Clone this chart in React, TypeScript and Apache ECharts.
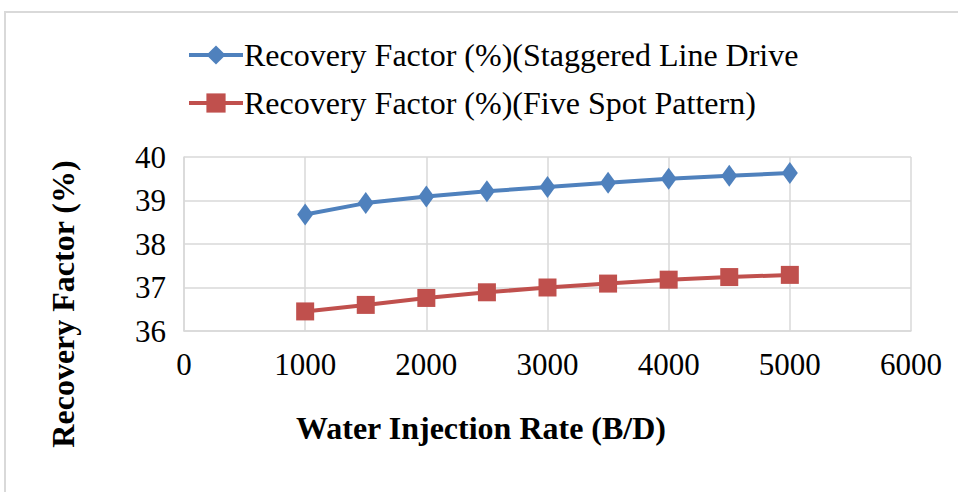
import React, { useEffect, useRef } from "react";
import * as echarts from "echarts";

const xValues = [1000, 1500, 2000, 2500, 3000, 3500, 4000, 4500, 5000];
const staggeredLineDrive = [38.68, 38.94, 39.09, 39.21, 39.31, 39.41, 39.5, 39.57, 39.63];
const fiveSpotPattern = [36.45, 36.6, 36.76, 36.89, 37.0, 37.09, 37.18, 37.24, 37.29];
const seriesNames = [
  "Recovery Factor (%)(Staggered Line Drive",
  "Recovery Factor (%)(Five Spot Pattern)",
];
const xAxisTitle = "Water Injection Rate (B/D)";
const yAxisTitle = "Recovery Factor (%)";

const FONT = '"Liberation Serif", "Times New Roman", serif';

export default function App() {
  const ref = useRef<HTMLDivElement>(null);
  useEffect(() => {
    if (!ref.current) return;
    const chart = echarts.init(ref.current, null, { renderer: "svg" });
    const gridColor = "#D9D9D9";
    chart.setOption({
      animation: false,
      backgroundColor: "#ffffff",
      textStyle: { fontFamily: FONT },
      graphic: [
        {
          type: "rect",
          shape: { x: 5, y: 12, width: 1000, height: 600 },
          style: { fill: "none", stroke: "#D9D9D9", lineWidth: 2 },
          silent: true,
        },
        {
          type: "text",
          x: 481,
          y: 428,
          style: {
            text: xAxisTitle,
            font: `bold 32px ${FONT}`,
            fill: "#000",
            align: "center",
            verticalAlign: "middle",
          },
          silent: true,
        },
        {
          type: "text",
          x: 63,
          y: 304,
          rotation: Math.PI / 2,
          style: {
            text: yAxisTitle,
            font: `bold 32px ${FONT}`,
            fill: "#000",
            align: "center",
            verticalAlign: "middle",
          },
          silent: true,
        },
      ],
      legend: {
        orient: "vertical",
        left: 187,
        top: 39,
        padding: 0,
        itemWidth: 54,
        itemHeight: 24,
        itemGap: 16,
        lineStyle: { width: 4 },
        textStyle: { fontFamily: FONT, fontSize: 32, color: "#000", lineHeight: 32, padding: [0, 0, 0, -4] },
        data: seriesNames,
      },
      grid: { left: 184, right: 47, top: 157, bottom: 161, containLabel: false },
      xAxis: {
        type: "value",
        min: 0,
        max: 6000,
        interval: 1000,
        axisLine: { show: true, lineStyle: { color: gridColor, width: 1.5 } },
        axisTick: { show: false },
        axisLabel: {
          fontFamily: FONT,
          fontSize: 31,
          color: "#000",
          margin: 18,
          formatter: (v: number) => String(v),
        },
        splitLine: { show: true, lineStyle: { color: gridColor, width: 1.5 } },
      },
      yAxis: {
        type: "value",
        min: 36,
        max: 40,
        interval: 1,
        axisLine: { show: true, lineStyle: { color: gridColor, width: 1.5 } },
        axisTick: { show: false },
        axisLabel: { fontFamily: FONT, fontSize: 31, color: "#000", margin: 18 },
        splitLine: { show: true, lineStyle: { color: gridColor, width: 1.5 } },
      },
      series: [
        {
          name: seriesNames[0],
          type: "line",
          data: xValues.map((x, i) => [x, staggeredLineDrive[i]]),
          symbol: "diamond",
          symbolSize: [16, 22],
          lineStyle: { color: "#4F81BD", width: 4 },
          itemStyle: { color: "#4F81BD" },
        },
        {
          name: seriesNames[1],
          type: "line",
          data: xValues.map((x, i) => [x, fiveSpotPattern[i]]),
          symbol: "rect",
          symbolSize: 18,
          lineStyle: { color: "#C0504D", width: 4 },
          itemStyle: { color: "#C0504D" },
        },
      ],
    });
    return () => chart.dispose();
  }, []);
  return (
    <div
      ref={ref}
      style={{ position: "fixed", left: 0, top: 0, width: 958, height: 492 }}
    />
  );
}
